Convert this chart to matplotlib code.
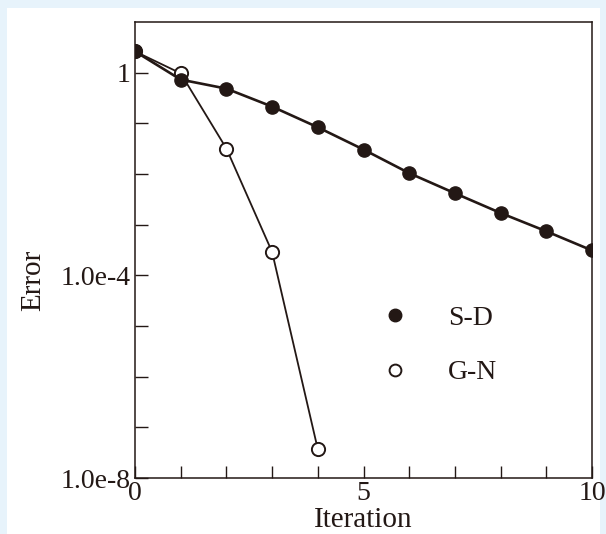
import matplotlib
matplotlib.use('Agg')
import matplotlib.pyplot as plt
from matplotlib.patches import Rectangle
from matplotlib.lines import Line2D
from matplotlib.ticker import FixedLocator, FixedFormatter, MultipleLocator

# values
iterations = list(range(11))
sd_error = [2.63, 0.73, 0.484, 0.214, 0.0836, 0.0304, 0.0104, 0.00417, 0.0017, 7.4e-4, 3.1e-4]
gn_iter = [0, 1, 2, 3, 4]
gn_error = [2.63, 0.97, 0.0318, 2.9e-4, 3.7e-8]

y_labelled = [1e-8, 1e-4, 1.0]
y_labels = ['1.0e-8', '1.0e-4', '1']
y_decades = [10.0 ** k for k in range(-8, 1)]

ink = '#231815'
W, H = 606, 534

plt.rcParams['font.family'] = ['Liberation Serif', 'DejaVu Serif']

fig = plt.figure(figsize=(W / 100, H / 100), dpi=100)
fig.patch.set_facecolor('#e7f3fb')
fig.patches.append(Rectangle((7 / W, 0), (600 - 7) / W, (H - 8) / H,
                             transform=fig.transFigure, facecolor='white',
                             edgecolor='none', zorder=-5))

ax = fig.add_axes([135 / W, 1 - 478 / H, (592 - 135) / W, (478 - 22) / H])
ax.set_zorder(2)
ax.set_facecolor('white')

ax.plot(gn_iter, gn_error, color=ink, lw=1.3, marker='o', ms=9.5,
        mfc='white', mec=ink, mew=1.4, zorder=3)
ax.plot(iterations, sd_error, color=ink, lw=1.9, marker='o', ms=9.5,
        mfc=ink, mec=ink, zorder=4)

ax.set_yscale('log')
ax.set_xlim(0, 10)
ax.set_ylim(1e-8, 10)

ax.xaxis.set_major_locator(MultipleLocator(5))
ax.xaxis.set_minor_locator(MultipleLocator(1))
ax.yaxis.set_major_locator(FixedLocator(y_labelled))
ax.yaxis.set_major_formatter(FixedFormatter(y_labels))
ax.yaxis.set_minor_locator(FixedLocator(y_decades))
ax.yaxis.set_minor_formatter(FixedFormatter([''] * len(y_decades)))

ax.tick_params(which='both', direction='in', length=9, width=1.0, color=ink,
               top=False, right=False, labelsize=20, labelcolor=ink)
ax.tick_params(axis='y', pad=3)
ax.tick_params(axis='x', pad=2)
for s in ax.spines.values():
    s.set_linewidth(1.1)
    s.set_color(ink)

ax.set_xlabel('Iteration', fontsize=21, color=ink, va='center')
ax.xaxis.set_label_coords(0.499, -0.093)
ax.set_ylabel('Error', fontsize=21, color=ink, va='center')
ax.yaxis.set_label_coords(-0.222, 0.434)

handles = [
    Line2D([], [], ls='none', marker='o', ms=9, mfc=ink, mec=ink),
    Line2D([], [], ls='none', marker='o', ms=8.5, mfc='white', mec=ink, mew=1.4),
]
ax.legend(handles, ['S-D', 'G-N'], loc='upper left', bbox_to_anchor=(0.508, 0.379),
          frameon=False, fontsize=20, handlelength=2.0, handletextpad=0.9,
          labelspacing=1.05, borderpad=0, borderaxespad=0, labelcolor=ink)

fig.savefig('out.png', dpi=100, facecolor=fig.get_facecolor())
